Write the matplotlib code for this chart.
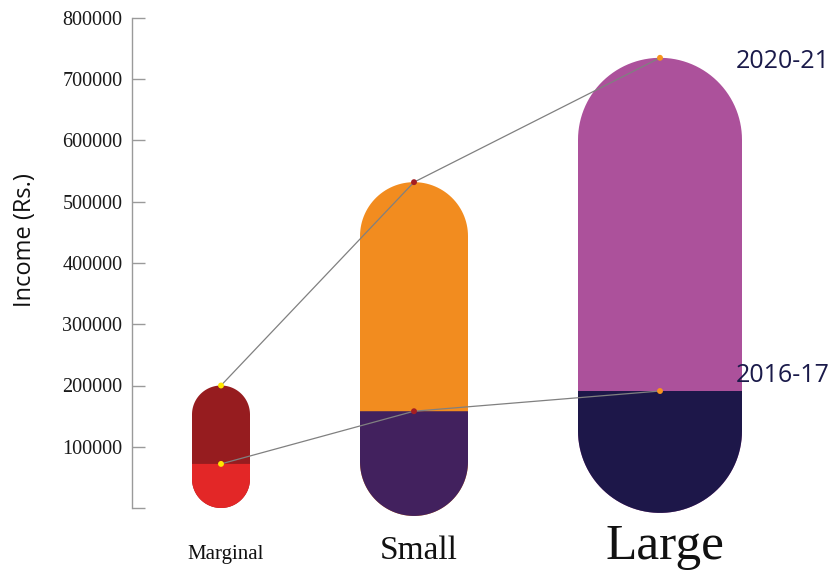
import numpy as np
import matplotlib.pyplot as plt
from matplotlib.path import Path
from matplotlib.patches import PathPatch
from matplotlib.transforms import blended_transform_factory

# Income by farm size, two survey rounds
categories = ["Marginal", "Small", "Large"]
income_2016 = [72000, 158000, 191000]
income_2020 = [200000, 532000, 735000]
pill_base = [0, -13000, -8000]

top_colors = ["#961c1f", "#f28c1f", "#ac519b"]
bottom_colors = ["#e32727", "#42215e", "#1d1749"]
dot_colors = ["#ffe600", "#a51e22", "#f7941d"]
label_sizes = [15, 24, 37]

widths = [0.58, 1.08, 1.64]
gap = 1.1
first_left = 0.60

lefts = [first_left]
for w in widths[:-1]:
    lefts.append(lefts[-1] + w + gap)
centers = [l + w / 2 for l, w in zip(lefts, widths)]

fig = plt.figure(figsize=(8.36, 5.79), dpi=100)
ax = fig.add_axes([132 / 836, 71 / 579, 704 / 836, 490 / 579])
ax.set_xlim(0, 7.04)
ax.set_ylim(0, 800000)

# data units per pixel, so the caps come out round on screen
px_x = 7.04 / 704
px_y = 800000 / 490


def pill(xc, w, y0, y1, round_top=True, n=60):
    rx = w / 2
    ry = (w / 2) / px_x * px_y
    t = np.linspace(np.pi, 2 * np.pi, n)
    bottom = np.column_stack([xc + rx * np.cos(t), y0 + ry + ry * np.sin(t)])
    if round_top:
        t2 = np.linspace(0, np.pi, n)
        top = np.column_stack([xc + rx * np.cos(t2), y1 - ry + ry * np.sin(t2)])
    else:
        top = np.array([[xc + rx, y1], [xc - rx, y1]])
    pts = np.vstack([bottom, top, bottom[:1]])
    codes = [Path.MOVETO] + [Path.LINETO] * (len(pts) - 2) + [Path.CLOSEPOLY]
    return Path(pts, codes)


for i in range(len(categories)):
    ax.add_patch(PathPatch(pill(centers[i], widths[i], pill_base[i], income_2020[i]),
                           facecolor=top_colors[i], edgecolor="none", clip_on=False, zorder=2))
    ax.add_patch(PathPatch(pill(centers[i], widths[i], pill_base[i], income_2016[i], round_top=False),
                           facecolor=bottom_colors[i], edgecolor="none", clip_on=False, zorder=3))

ax.plot(centers, income_2020, color="#808080", lw=0.9, zorder=4, clip_on=False)
ax.plot(centers, income_2016, color="#808080", lw=0.9, zorder=4, clip_on=False)
ax.scatter(centers, income_2020, s=18, c=dot_colors, zorder=5, clip_on=False, linewidths=0)
ax.scatter(centers, income_2016, s=18, c=dot_colors, zorder=5, clip_on=False, linewidths=0)

# category names under the pills
trans = blended_transform_factory(ax.transData, fig.transFigure)
for i, name in enumerate(categories):
    ax.text(centers[i] + 0.05, (579 - 559) / 579, name, transform=trans,
            ha="center", va="baseline", fontsize=label_sizes[i],
            family="Liberation Serif", color="#111111")

fig.text(830 / 836, (579 - 62) / 579, "2020-21", ha="right", va="center",
         fontsize=18, family="Open Sans", color="#1a1a4a")
fig.text(830 / 836, (579 - 376) / 579, "2016-17", ha="right", va="center",
         fontsize=18, family="Open Sans", color="#1a1a4a")

for s in ["top", "right", "bottom"]:
    ax.spines[s].set_visible(False)
ax.spines["left"].set_color("#9a9a9a")
ax.spines["left"].set_linewidth(1.0)

yticks = np.arange(0, 800001, 100000)
ax.set_yticks(yticks)
ax.set_yticklabels([""] + [str(v) for v in yticks[1:]], family="Liberation Serif",
                   fontsize=14.5, color="#1a1a1a")
ax.tick_params(axis="y", direction="in", length=9, width=1.0, color="#9a9a9a", pad=7)
ax.set_xticks([])
fig.text(25 / 836, (579 - 240) / 579, "Income (Rs.)", rotation=90, ha="center", va="center",
         family="Open Sans", fontsize=17, color="#111111")

fig.savefig("out.png", dpi=100)
